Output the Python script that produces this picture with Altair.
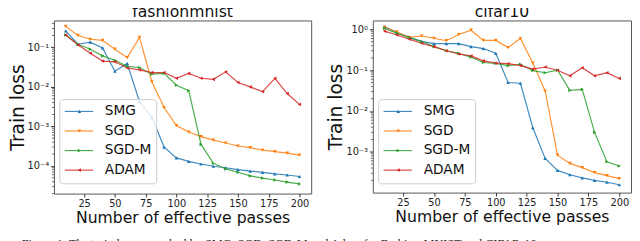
import altair as alt
import pandas as pd

passes = [10, 20, 30, 40, 50, 60, 70, 80, 90, 100, 110, 120, 130, 140, 150, 160, 170, 180, 190, 200]
methods = ["SMG", "SGD", "SGD-M", "ADAM"]
colors = ["#1f77b4", "#ff7f0e", "#2ca02c", "#d62728"]
shapes = ["triangle-up", "triangle-down", "triangle-right", "triangle-left"]

# fashionmnist train loss
fm_smg = [0.26, 0.12, 0.135, 0.097, 0.025, 0.039, 0.0042, 0.0017, 0.0003, 1.6e-4, 1.3e-4, 1.12e-4, 9.8e-5, 9.0e-5, 8.1e-5, 7.4e-5, 6.9e-5, 6.3e-5, 5.9e-5, 5.4e-5]
fm_sgd = [0.34, 0.20, 0.16, 0.15, 0.09, 0.055, 0.178, 0.0135, 0.003, 0.00105, 7.2e-4, 5.5e-4, 4.5e-4, 3.8e-4, 3.2e-4, 2.9e-4, 2.5e-4, 2.3e-4, 2.1e-4, 1.87e-4]
fm_sgdm = [0.205, 0.12, 0.09, 0.061, 0.047, 0.033, 0.031, 0.021, 0.022, 0.011, 0.008, 3.5e-4, 1.17e-4, 8.4e-5, 6.9e-5, 5.6e-5, 4.9e-5, 4.4e-5, 3.9e-5, 3.5e-5]
fm_adam = [0.205, 0.116, 0.071, 0.045, 0.043, 0.030, 0.027, 0.023, 0.023, 0.0165, 0.022, 0.0165, 0.0155, 0.024, 0.0129, 0.010, 0.0076, 0.0165, 0.0068, 0.0036]

# cifar10 train loss
cf_smg = [1.18, 0.83, 0.64, 0.51, 0.45, 0.45, 0.45, 0.38, 0.34, 0.26, 0.050, 0.048, 0.0039, 6.9e-4, 3.5e-4, 2.75e-4, 2.3e-4, 2.0e-4, 1.8e-4, 1.56e-4]
cf_sgd = [1.15, 0.87, 0.64, 0.69, 0.61, 0.53, 0.75, 0.96, 0.54, 0.54, 0.36, 0.60, 0.15, 0.031, 8.3e-4, 5.2e-4, 4.1e-4, 3.1e-4, 2.6e-4, 2.2e-4]
cf_sgdm = [1.06, 0.81, 0.64, 0.50, 0.38, 0.30, 0.26, 0.21, 0.155, 0.148, 0.13, 0.14, 0.098, 0.087, 0.10, 0.032, 0.034, 0.003, 5.7e-4, 4.5e-4]
cf_adam = [0.91, 0.73, 0.58, 0.46, 0.38, 0.30, 0.25, 0.225, 0.17, 0.15, 0.145, 0.13, 0.107, 0.12, 0.10, 0.073, 0.115, 0.073, 0.087, 0.063]

x_ticks = [25, 50, 75, 100, 125, 150, 175, 200]
fm_yticks = [1e-4, 1e-3, 1e-2, 1e-1]
cf_yticks = [1e-3, 1e-2, 1e-1, 1.0]
sup = {-4: "10⁻⁴", -3: "10⁻³", -2: "10⁻²", -1: "10⁻¹", 0: "10⁰"}

caption = "Figure 1: The train losses reached by SMG, SGD, SGD-M and Adam for Fashion-MNIST and CIFAR-10"

FONT = "DejaVu Sans"


def long_df(series):
    rows = []
    for m, vals in zip(methods, series):
        for p, v in zip(passes, vals):
            rows.append({"passes": p, "loss": v, "method": m})
    return pd.DataFrame(rows)


def label_expr(exps):
    expr = "''"
    for e in exps:
        expr = f"abs(log(datum.value)/LN10 - ({e})) < 0.1 ? '{sup[e]}' : " + expr
    return expr


def minors_for(lo, hi):
    out = []
    for e in range(-6, 2):
        for k in range(2, 10):
            v = k * 10.0 ** e
            if lo < v < hi:
                out.append(v)
    return out


def panel(series, title, ydom, yticks, exps, w, h):
    df = long_df(series)
    x = alt.X("passes:Q",
              scale=alt.Scale(domain=[0.5, 209.5], nice=False, zero=False),
              axis=alt.Axis(values=x_ticks, title="Number of effective passes", grid=False,
                            titleFontSize=16, titlePadding=1, labelPadding=2))
    y = alt.Y("loss:Q",
              scale=alt.Scale(type="log", domain=ydom, nice=False),
              axis=alt.Axis(values=yticks, labelExpr=label_expr(exps), title="Train loss",
                            grid=False, titleFontSize=19, titlePadding=0, labelPadding=2))
    color = alt.Color("method:N", scale=alt.Scale(domain=methods, range=colors), legend=None)
    shape = alt.Shape("method:N", scale=alt.Scale(domain=methods, range=shapes), legend=None)
    base = alt.Chart(df)
    lines = base.mark_line(strokeWidth=1.2, opacity=0.85).encode(x=x, y=y, color=color, detail="method:N")
    pts = base.mark_point(filled=True, size=14, opacity=1).encode(x=x, y=y, color=color, shape=shape)
    minor = alt.Chart(pd.DataFrame({"loss": minors_for(ydom[0], ydom[1])})).mark_rule(
        color="#444", strokeWidth=0.8).encode(y="loss:Q", x=alt.value(0), x2=alt.value(-2))

    one = pd.DataFrame({"a": [0]})
    layers = [lines, pts, minor]
    box = alt.Chart(one).mark_rect(fill="white", fillOpacity=0.8, stroke="#cccccc", strokeWidth=1,
                                   cornerRadius=3).encode(x=alt.value(6), x2=alt.value(105),
                                                          y=alt.value(81), y2=alt.value(167))
    layers.append(box)
    rows_y = [93, 113, 133, 153]
    for m, c, s, ry in zip(methods, colors, shapes, rows_y):
        layers.append(alt.Chart(one).mark_rule(color=c, strokeWidth=1.2, opacity=0.85).encode(
            x=alt.value(11), x2=alt.value(40), y=alt.value(ry)))
        layers.append(alt.Chart(one).mark_point(shape=s, filled=True, size=14, color=c, opacity=1).encode(
            x=alt.value(26), y=alt.value(ry)))
        layers.append(alt.Chart(one).mark_text(text=m, align="left", baseline="middle", fontSize=14,
                                               font=FONT, color="#111").encode(
            x=alt.value(52), y=alt.value(ry)))
    return alt.layer(*layers).properties(
        width=w, height=h,
        title=alt.TitleParams(title, fontSize=16, font=FONT, fontWeight="normal", color="#111", offset=1),
    )


left = panel([fm_smg, fm_sgd, fm_sgdm, fm_adam], "fashionmnist",
             [10 ** -4.70, 10 ** -0.32], fm_yticks, [-4, -3, -2, -1], 263, 177)
right = panel([cf_smg, cf_sgd, cf_sgdm, cf_adam], "cifar10",
              [10 ** -4.0, 10 ** 0.22], cf_yticks, [-3, -2, -1, 0], 264, 176)

chart = alt.hconcat(left, right, spacing=14).properties(
    title=alt.TitleParams(caption, orient="bottom", anchor="start", font="Liberation Serif",
                          fontSize=12.5, fontWeight="normal", color="#222", offset=13, dx=14),
    padding={"left": -1, "top": -8, "right": 0, "bottom": 0},
).configure_view(stroke="#555", strokeWidth=1).configure_axis(
    domain=False, tickColor="#333", tickSize=3.5, labelFont=FONT, labelFontSize=10,
    labelColor="#222", titleFont=FONT, titleFontWeight="normal", titleColor="#111",
)

chart.save("out.html", embed_options={"renderer": "svg", "actions": False})
